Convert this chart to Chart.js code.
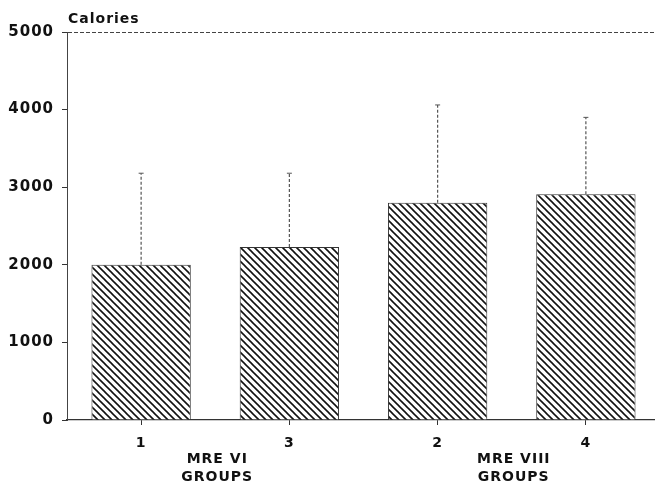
<!DOCTYPE html>
<html>
<head>
<meta charset="utf-8">
<script src="https://cdn.jsdelivr.net/npm/chart.js@4/dist/chart.umd.min.js"></script>
<style>
  html, body { margin: 0; padding: 0; background: #fff; overflow: hidden; width: 655px; height: 485px; }
  #wrap { width: 660px; height: 485px; }
</style>
</head>
<body>
<div id="wrap"><canvas id="c" width="660" height="485"></canvas></div>
<script>
const categories = ['1', '3', '2', '4'];
const meanCalories = [2000, 2230, 2800, 2910];
const errorTops = [3180, 3180, 4060, 3900];
const yTicks = [0, 1000, 2000, 3000, 4000, 5000];
const groupLabels = [
  { lines: ['MRE VI', 'GROUPS'], between: [0, 1] },
  { lines: ['MRE VIII', 'GROUPS'], between: [2, 3] }
];
const yTitle = 'Calories';

const FONT = '"DejaVu Sans", "Liberation Sans", sans-serif';
const SPACING = '1px';

function hatchPattern() {
  const s = 7;
  const pc = document.createElement('canvas');
  pc.width = s; pc.height = s;
  const p = pc.getContext('2d');
  p.fillStyle = '#fff';
  p.fillRect(0, 0, s, s);
  p.strokeStyle = '#111';
  p.lineWidth = 1.6;
  for (const x0 of [-s, 0, s]) {
    p.beginPath();
    p.moveTo(x0 - 1, -1);
    p.lineTo(x0 + s + 1, s + 1);
    p.stroke();
  }
  return document.getElementById('c').getContext('2d').createPattern(pc, 'repeat');
}

const spacingPlugin = {
  id: 'spacing',
  beforeLayout(chart) { chart.ctx.letterSpacing = SPACING; },
  beforeDraw(chart) { chart.ctx.letterSpacing = SPACING; }
};

const extrasPlugin = {
  id: 'extras',
  afterDatasetsDraw(chart) {
    const ctx = chart.ctx;
    const x = chart.scales.x, y = chart.scales.y;
    ctx.save();
    // error bars
    ctx.strokeStyle = '#555';
    ctx.lineWidth = 1.2;
    ctx.setLineDash([3, 2]);
    errorTops.forEach((v, i) => {
      const px = x.getPixelForValue(i);
      ctx.beginPath();
      ctx.moveTo(px, y.getPixelForValue(meanCalories[i]));
      ctx.lineTo(px, y.getPixelForValue(v));
      ctx.stroke();
    });
    ctx.setLineDash([]);
    ctx.lineWidth = 1;
    errorTops.forEach((v, i) => {
      const px = x.getPixelForValue(i);
      const py = y.getPixelForValue(v);
      ctx.beginPath();
      ctx.moveTo(px - 2.5, py);
      ctx.lineTo(px + 2.5, py);
      ctx.stroke();
    });
    // texts
    ctx.fillStyle = '#111';
    ctx.letterSpacing = SPACING;
    ctx.font = 'bold 14px ' + FONT;
    ctx.textAlign = 'left';
    ctx.textBaseline = 'alphabetic';
    ctx.fillText(yTitle, chart.chartArea.left + 1, 23);
    ctx.textAlign = 'center';
    groupLabels.forEach(g => {
      const cx = (x.getPixelForValue(g.between[0]) + x.getPixelForValue(g.between[1])) / 2;
      g.lines.forEach((t, k) => ctx.fillText(t, cx + 2, 463 + k * 18));
    });
    ctx.restore();
  }
};

new Chart(document.getElementById('c'), {
  type: 'bar',
  data: {
    labels: categories,
    datasets: [{
      data: meanCalories,
      backgroundColor: hatchPattern(),
      borderColor: '#333',
      borderWidth: 1,
      barPercentage: 0.67,
      categoryPercentage: 1
    }]
  },
  options: {
    responsive: false,
    animation: false,
    devicePixelRatio: 1,
    layout: { padding: { top: 32, right: 0, left: 0, bottom: 0 } },
    plugins: { legend: { display: false }, tooltip: { enabled: false } },
    scales: {
      x: {
        grid: { drawOnChartArea: false, offset: false, tickLength: 5, tickColor: '#333', lineWidth: 1 },
        border: { display: true, color: '#333', width: 1.2, dash: [8, 2] },
        ticks: { color: '#111', font: { family: FONT, size: 14, weight: 'bold' }, padding: 10, maxRotation: 0 },
        afterFit(s) { s.height = 65; }
      },
      y: {
        min: 0, max: 5000,
        afterBuildTicks(s) { s.ticks = yTicks.map(v => ({ value: v })); },
        grid: {
          color: c => (c.tick && c.tick.value === 5000) ? '#444' : 'rgba(0,0,0,0)',
          tickColor: '#333', tickLength: 5, lineWidth: 1
        },
        border: { display: true, color: '#444', width: 1, dash: [4, 2] },
        ticks: {
          color: '#111', font: { family: FONT, size: 15, weight: 'bold' }, padding: 8,
          callback: v => String(v)
        },
        afterFit(s) { s.width = 67; }
      }
    }
  },
  plugins: [spacingPlugin, extrasPlugin]
});
</script>
</body>
</html>
